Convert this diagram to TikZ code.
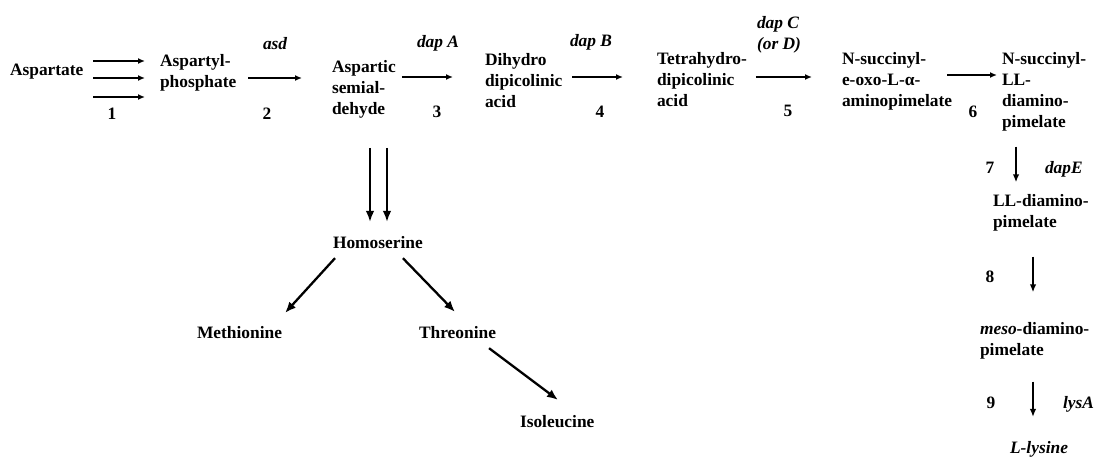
\documentclass[tikz,border=0pt]{standalone}
\usepackage{fontspec}
\setmainfont{Liberation Serif}
\usetikzlibrary{arrows.meta}
\begin{document}
\begin{tikzpicture}[x=1pt,y=-1pt,
  every node/.style={inner sep=0pt, outer sep=0pt, font=\bfseries\fontsize{17.4}{21}\selectfont},
  lbl/.style={anchor=base west},
  mlbl/.style={anchor=north west, align=left},
  num/.style={anchor=base},
  enz/.style={anchor=base west, font=\bfseries\itshape\fontsize{17.4}{21}\selectfont},
  harr/.style={line width=1.4pt, -{Latex[length=7pt,width=6pt]}},
  varr/.style={line width=1.5pt, -{Latex[length=8pt,width=6.5pt]}},
  darr/.style={line width=2.3pt, -{Latex[length=11pt,width=9pt]}},
  dblarr/.style={line width=1.9pt, -{Latex[length=11pt,width=8.5pt]}}]
\useasboundingbox (0,0) rectangle (1100,468);

% compounds
\node[lbl] (aspartate) at (10,76) {Aspartate};
\node[mlbl] (aspartyl) at (160,52.3) {\strut Aspartyl-\\phosphate};
\node[mlbl] (aspsemi) at (332,58.3) {\strut Aspartic\\semial-\\dehyde};
\node[mlbl] (dihydro) at (485,51.3) {\strut Dihydro\\dipicolinic\\acid};
\node[mlbl] (tetra) at (657,50.3) {\strut Tetrahydro-\\dipicolinic\\acid};
\node[mlbl] (nsuc) at (842,50.3) {\strut N-succinyl-\\e-oxo-L-α-\\aminopimelate};
\node[mlbl] (nsucdap) at (1002,50.3) {\strut N-succinyl-\\LL-\\diamino-\\pimelate};
\node[mlbl] (lldap) at (993,191.3) {\strut LL-diamino-\\pimelate};
\node[mlbl] (meso) at (980,319.3) {\strut\textit{meso}-diamino-\\pimelate};
\node[lbl] (lysine) at (1010,453) {\textit{L-lysine}};
\node[lbl] (homoserine) at (333,248) {Homoserine};
\node[lbl] (methionine) at (197,338) {Methionine};
\node[lbl] (threonine) at (419,338) {Threonine};
\node[lbl] (isoleucine) at (520,427) {Isoleucine};

% step numbers
\node[num] (n1) at (112,120) {1};
\node[num] (n2) at (267,120) {2};
\node[num] (n3) at (437,118) {3};
\node[num] (n4) at (600,118) {4};
\node[num] (n5) at (788,117) {5};
\node[num] (n6) at (973,118) {6};
\node[num] (n7) at (990,173) {7};
\node[num] (n8) at (990,282) {8};
\node[num] (n9) at (991,408) {9};

% enzymes
\node[enz] (asd) at (263,50) {asd};
\node[enz] (dapA) at (417,48) {dap A};
\node[enz] (dapB) at (570,47) {dap B};
\node[enz, anchor=north west, align=left] (dapC) at (757,14.3) {\strut dap C\\(or D)};
\node[enz] (dapE) at (1045,173) {dapE};
\node[enz] (lysA) at (1063,408) {lysA};

% connectors
\draw[harr] ([xshift=10pt]aspartate.east |- 0,61) -- ([xshift=-15pt]aspartyl.west |- 0,61);
\draw[harr] ([xshift=10pt]aspartate.east |- 0,78) -- ([xshift=-15pt]aspartyl.west |- 0,78);
\draw[harr] ([xshift=10pt]aspartate.east |- 0,97) -- ([xshift=-15pt]aspartyl.west |- 0,97);
\draw[harr] ([xshift=12pt]aspartyl.east |- 0,78) -- ([xshift=-30pt]aspsemi.west |- 0,78);
\draw[harr] ([xshift=6pt]aspsemi.east |- 0,77) -- ([xshift=-32pt]dihydro.west |- 0,77);
\draw[harr] ([xshift=10pt]dihydro.east |- 0,77) -- ([xshift=-34pt]tetra.west |- 0,77);
\draw[harr] ([xshift=9pt]tetra.east |- 0,77) -- ([xshift=-30pt]nsuc.west |- 0,77);
\draw[harr] ([xshift=-5pt]nsuc.east |- 0,75) -- ([xshift=-5pt]nsucdap.west |- 0,75);

\draw[varr] ([yshift=-15pt]nsucdap.south -| 1016,0) -- ([yshift=9pt]lldap.north -| 1016,0);
\draw[varr] ([yshift=-26pt]lldap.south -| 1033,0) -- ([yshift=27pt]meso.north -| 1033,0);
\draw[varr] ([yshift=-23pt]meso.south -| 1033,0) -- ([yshift=24pt]lysine.north -| 1033,0);

\draw[dblarr] ([yshift=-29pt]aspsemi.south -| 370,0) -- ([yshift=14pt]homoserine.north -| 370,0);
\draw[dblarr] ([yshift=-29pt]aspsemi.south -| 387,0) -- ([yshift=14pt]homoserine.north -| 387,0);

\draw[darr] ([xshift=2pt,yshift=-10pt]homoserine.south west) -- ([xshift=3pt,yshift=13pt]methionine.north east);
\draw[darr] ([xshift=-20pt,yshift=-10pt]homoserine.south east) -- ([xshift=36pt,yshift=14pt]threonine.north west);
\draw[darr] ([xshift=-7pt,yshift=-10pt]threonine.south east) -- ([xshift=38pt,yshift=15pt]isoleucine.north west);
\end{tikzpicture}
\end{document}
